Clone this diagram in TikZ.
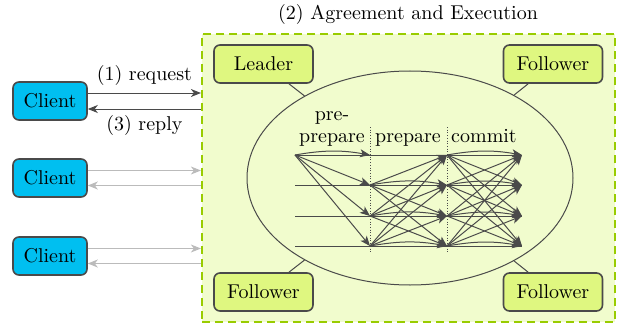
\documentclass[tikz,border=0pt]{standalone}
\usepackage{fontspec}
\setmainfont{lmroman10-regular.otf}
\usetikzlibrary{arrows.meta,shapes.geometric}
\definecolor{bgreen}{HTML}{F1FCCD}
\definecolor{dgreen}{HTML}{99CC00}
\definecolor{boxgreen}{HTML}{DFF780}
\definecolor{cyanc}{HTML}{00BFF0}
\definecolor{dgray}{HTML}{4A4A4A}
\definecolor{lgray}{HTML}{BBBBBB}
\begin{document}
\begin{tikzpicture}[x=1pt,y=-1pt,
  font=\fontsize{20}{23}\selectfont,
  rbox/.style={draw=dgray, line width=1.6pt, rounded corners=6pt, minimum width=99pt, minimum height=38pt, fill=boxgreen, inner sep=0pt},
  cbox/.style={rbox, fill=cyanc, minimum width=74pt},
  net/.style={draw=dgray, line width=1pt},
  netarrow/.style={net, -{Stealth[length=10pt,width=8pt,inset=2.5pt]}},
  carrow/.style={draw=dgray, line width=1pt, -{Stealth[length=10pt,width=8pt,inset=3pt]}},
  larrow/.style={carrow, draw=lgray},
]
\useasboundingbox (0,0) rectangle (624,329);
% agreement box
\node[draw=dgreen, dash pattern=on 8pt off 5pt, line width=2.2pt, fill=bgreen, minimum width=413pt, minimum height=288pt, inner sep=0pt] (agree) at (408.5,178) {};
\node[anchor=base] (title) at (408,20) {(2) Agreement and Execution};
% ellipse
\node[ellipse, draw=dgray, line width=1pt, minimum width=326pt, minimum height=214pt, inner sep=0pt] (ell) at (410,178) {};
% replica boxes
\node[rbox] (leader) at (263.5,64) {Leader};
\node[rbox] (f1) at (553,64) {Follower};
\node[rbox] (f2) at (263.5,292) {Follower};
\node[rbox] (f3) at (553,292) {Follower};
\foreach \b in {leader,f1,f2,f3}{\draw[net] (\b) -- (ell);}
% clients
\node[cbox] (c1) at (50,101) {Client};
\node[cbox] (c2) at (50,178) {Client};
\node[cbox] (c3) at (50,256) {Client};
\draw[carrow] ([yshift=8pt]c1.east) -- ([yshift=8pt]c1.east -| agree.west)
  node[midway, anchor=base, yshift=12pt] (req) {(1) request};
\draw[carrow] ([yshift=-8pt]c1.east -| agree.west) -- ([yshift=-8pt]c1.east)
  node[midway, anchor=base, yshift=-21pt] (rep) {(3) reply};
\foreach \c in {c2,c3}{
  \draw[larrow] ([yshift=7.5pt]\c.east) -- ([yshift=7.5pt]\c.east -| agree.west);
  \draw[larrow] ([yshift=-7.5pt]\c.east -| agree.west) -- ([yshift=-7.5pt]\c.east);
}
% network coordinates
\foreach \r/\y in {1/155,2/185,3/216,4/246}{
  \coordinate (a\r) at (295,\y);
  \coordinate (b\r) at (370,\y);
  \coordinate (c\r) at (447,\y);
  \coordinate (d\r) at (522,\y);
}
% phase separators
\draw[dgray, dotted, line width=0.7pt] ([yshift=28pt]b1) -- ([yshift=-6pt]b4);
\draw[dgray, dotted, line width=0.7pt] ([yshift=28pt]c1) -- ([yshift=-6pt]c4);
% labels
\node[anchor=base] (lpp) at (332,120) {pre-};
\node[anchor=base] (lpp2) at (332,142) {prepare};
\node[anchor=base] (lp) at (408,142) {prepare};
\node[anchor=base] (lc) at (484,142) {commit};
% timelines
\foreach \r in {1,2,3,4}{\draw[net] (a\r) -- (d\r);}
% pre-prepare
\draw[netarrow] (a1) to[bend left=10] (b1);
\foreach \j in {2,3,4}{\draw[netarrow] (a1) -- (b\j);}
% prepare
\foreach \i in {2,3,4}{
  \foreach \j in {1,2,3,4}{
    \ifnum\i=\j
      \draw[netarrow] (b\i) to[bend left=10] (c\j);
    \else
      \draw[netarrow] (b\i) -- (c\j);
    \fi
  }
}
% commit
\foreach \i in {1,2,3,4}{
  \foreach \j in {1,2,3,4}{
    \ifnum\i=\j
      \draw[netarrow] (c\i) to[bend left=10] (d\j);
    \else
      \draw[netarrow] (c\i) -- (d\j);
    \fi
  }
}
\end{tikzpicture}
\end{document}
